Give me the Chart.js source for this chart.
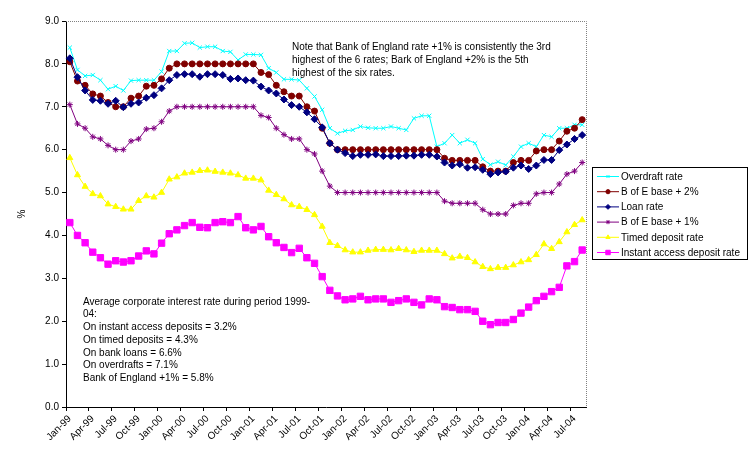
<!DOCTYPE html>
<html>
<head>
<meta charset="utf-8">
<script src="https://cdn.jsdelivr.net/npm/chart.js@4/dist/chart.umd.min.js"></script>
<style>
  html, body { margin: 0; padding: 0; background: #fff; }
  canvas { display: block; }
</style>
</head>
<body>
<canvas id="chart" width="752" height="462"></canvas>
<script>
// months Jan-99 .. Aug-04
const months = [
    "Jan-99", "Feb-99", "Mar-99", "Apr-99", "May-99", "Jun-99", "Jul-99", "Aug-99", "Sep-99", "Oct-99", "Nov-99", "Dec-99",
    "Jan-00", "Feb-00", "Mar-00", "Apr-00", "May-00", "Jun-00", "Jul-00", "Aug-00", "Sep-00", "Oct-00", "Nov-00", "Dec-00",
    "Jan-01", "Feb-01", "Mar-01", "Apr-01", "May-01", "Jun-01", "Jul-01", "Aug-01", "Sep-01", "Oct-01", "Nov-01", "Dec-01",
    "Jan-02", "Feb-02", "Mar-02", "Apr-02", "May-02", "Jun-02", "Jul-02", "Aug-02", "Sep-02", "Oct-02", "Nov-02", "Dec-02",
    "Jan-03", "Feb-03", "Mar-03", "Apr-03", "May-03", "Jun-03", "Jul-03", "Aug-03", "Sep-03", "Oct-03", "Nov-03", "Dec-03",
    "Jan-04", "Feb-04", "Mar-04", "Apr-04", "May-04", "Jun-04", "Jul-04", "Aug-04"
];

const overdraft = [
    8.38, 7.86, 7.72, 7.74, 7.62, 7.41, 7.48, 7.38, 7.61, 7.62, 7.62, 7.62,
    7.82, 8.30, 8.30, 8.48, 8.49, 8.38, 8.40, 8.40, 8.30, 8.28, 8.09, 8.22,
    8.22, 8.21, 7.90, 7.80, 7.64, 7.64, 7.62, 7.43, 7.24, 6.93, 6.50, 6.38,
    6.44, 6.46, 6.54, 6.51, 6.50, 6.50, 6.54, 6.50, 6.46, 6.73, 6.79, 6.79,
    6.07, 6.15, 6.34, 6.15, 6.23, 6.15, 5.78, 5.65, 5.72, 5.64, 5.84, 6.07,
    6.15, 6.07, 6.34, 6.30, 6.50, 6.50, 6.58, 6.58
];

const boePlus2 = [
    8.05, 7.60, 7.50, 7.30, 7.25, 7.10, 7.00, 7.00, 7.20, 7.25, 7.48, 7.50,
    7.65, 7.90, 8.00, 8.00, 8.00, 8.00, 8.00, 8.00, 8.00, 8.00, 8.00, 8.00,
    8.00, 7.80, 7.75, 7.50, 7.35, 7.25, 7.25, 7.00, 6.90, 6.50, 6.15, 6.00,
    6.00, 6.00, 6.00, 6.00, 6.00, 6.00, 6.00, 6.00, 6.00, 6.00, 6.00, 6.00,
    6.00, 5.80, 5.75, 5.75, 5.75, 5.75, 5.60, 5.50, 5.50, 5.50, 5.70, 5.75,
    5.75, 5.97, 6.00, 6.00, 6.20, 6.43, 6.50, 6.70
];

const loan = [
    8.13, 7.69, 7.38, 7.16, 7.14, 7.07, 7.14, 6.99, 7.07, 7.10, 7.21, 7.27,
    7.43, 7.62, 7.74, 7.76, 7.76, 7.70, 7.76, 7.76, 7.74, 7.65, 7.66, 7.62,
    7.61, 7.47, 7.38, 7.31, 7.17, 7.04, 7.00, 6.87, 6.71, 6.52, 6.15, 6.00,
    5.92, 5.85, 5.88, 5.88, 5.89, 5.85, 5.85, 5.85, 5.86, 5.86, 5.88, 5.88,
    5.84, 5.70, 5.63, 5.66, 5.58, 5.59, 5.53, 5.43, 5.47, 5.49, 5.58, 5.63,
    5.55, 5.63, 5.76, 5.76, 5.99, 6.12, 6.25, 6.34
];

const boePlus1 = [
    7.05, 6.60, 6.50, 6.30, 6.25, 6.10, 6.00, 6.00, 6.20, 6.25, 6.48, 6.50,
    6.65, 6.90, 7.00, 7.00, 7.00, 7.00, 7.00, 7.00, 7.00, 7.00, 7.00, 7.00,
    7.00, 6.80, 6.75, 6.50, 6.35, 6.25, 6.25, 6.00, 5.90, 5.50, 5.15, 5.00,
    5.00, 5.00, 5.00, 5.00, 5.00, 5.00, 5.00, 5.00, 5.00, 5.00, 5.00, 5.00,
    5.00, 4.80, 4.75, 4.75, 4.75, 4.75, 4.60, 4.50, 4.50, 4.50, 4.70, 4.75,
    4.75, 4.97, 5.00, 5.00, 5.20, 5.43, 5.50, 5.70
];

const timedDeposit = [
    5.81, 5.41, 5.14, 4.97, 4.92, 4.73, 4.67, 4.61, 4.61, 4.81, 4.92, 4.89,
    5.00, 5.31, 5.36, 5.45, 5.47, 5.51, 5.52, 5.49, 5.47, 5.45, 5.41, 5.33,
    5.33, 5.29, 5.05, 4.95, 4.85, 4.71, 4.67, 4.60, 4.48, 4.21, 3.83, 3.76,
    3.66, 3.61, 3.61, 3.65, 3.67, 3.67, 3.66, 3.69, 3.66, 3.62, 3.65, 3.65,
    3.65, 3.57, 3.47, 3.51, 3.48, 3.38, 3.27, 3.22, 3.25, 3.25, 3.31, 3.38,
    3.43, 3.55, 3.80, 3.69, 3.85, 4.08, 4.25, 4.36
];

const instantAccess = [
    4.30, 4.00, 3.83, 3.61, 3.48, 3.33, 3.41, 3.38, 3.41, 3.52, 3.64, 3.57,
    3.82, 4.04, 4.13, 4.23, 4.30, 4.19, 4.18, 4.30, 4.32, 4.30, 4.44, 4.18,
    4.13, 4.21, 3.97, 3.83, 3.72, 3.60, 3.70, 3.48, 3.35, 3.04, 2.72, 2.59,
    2.50, 2.52, 2.58, 2.50, 2.52, 2.52, 2.44, 2.48, 2.52, 2.44, 2.38, 2.52,
    2.50, 2.34, 2.32, 2.27, 2.27, 2.23, 2.00, 1.92, 1.97, 1.97, 2.04, 2.19,
    2.33, 2.48, 2.58, 2.69, 2.79, 3.29, 3.39, 3.66
];

const yTicks = [0, 1, 2, 3, 4, 5, 6, 7, 8, 9];

const noteLines = [
    "Note that Bank of England rate +1% is consistently the 3rd",
    "highest of the 6 rates; Bark of England +2% is the 5th",
    "highest of the six rates."
];

const averageLines = [
    "Average corporate interest rate during period 1999-",
    "04:",
    "On instant access deposits = 3.2%",
    "On timed deposits = 4.3%",
    "On bank loans = 6.6%",
    "On overdrafts = 7.1%",
    "Bank of England +1% = 5.8%"
];

Chart.defaults.font.family = "'Liberation Sans', Arial, sans-serif";
Chart.defaults.font.size = 10;
Chart.defaults.color = "#000";

function series(label, data, color, style, radius, order) {
    return {
        label: label,
        data: data,
        borderColor: color,
        backgroundColor: color,
        borderWidth: 1,
        pointStyle: style,
        pointRadius: radius,
        pointBorderWidth: 1,
        pointBorderColor: color,
        pointBackgroundColor: color,
        tension: 0,
        order: order
    };
}

// plot frame (dotted top / right) plus text boxes and legend
const extras = {
    id: "extras",
    beforeDatasetsDraw(chart) {
        const ctx = chart.ctx;
        const a = chart.chartArea;
        ctx.save();
        ctx.strokeStyle = "#808080";
        ctx.lineWidth = 1;
        ctx.setLineDash([1, 1]);
        ctx.beginPath();
        ctx.moveTo(a.left, a.top + 0.5);
        ctx.lineTo(a.right + 0.5, a.top + 0.5);
        ctx.lineTo(a.right + 0.5, a.bottom);
        ctx.stroke();
        ctx.restore();
    },
    afterDraw(chart) {
        const ctx = chart.ctx;
        ctx.save();
        ctx.font = "10px 'Liberation Sans', Arial, sans-serif";
        ctx.fillStyle = "#000";
        ctx.textBaseline = "middle";
        ctx.textAlign = "left";
        noteLines.forEach((t, i) => ctx.fillText(t, 292, 47 + i * 13));
        averageLines.forEach((t, i) => ctx.fillText(t, 83, 302 + i * 12.7));

        // legend
        const lx = 592, ly = 167, lw = 155, lh = 92;
        ctx.strokeStyle = "#000";
        ctx.lineWidth = 1;
        ctx.strokeRect(lx + 0.5, ly + 0.5, lw, lh);
        chart.data.datasets.forEach((ds, i) => {
            const y = 176 + i * 15.2;
            ctx.strokeStyle = ds.borderColor;
            ctx.beginPath();
            ctx.moveTo(597, y + 0.5);
            ctx.lineTo(619, y + 0.5);
            ctx.stroke();
            ctx.fillStyle = ds.backgroundColor;
            Chart.helpers.drawPoint(ctx, {
                pointStyle: ds.pointStyle,
                radius: ds.pointRadius * 0.7,
                borderWidth: 1,
                rotation: 0
            }, 608, y + 0.5);
            ctx.fillStyle = "#000";
            ctx.fillText(ds.label, 621, y + 1);
        });
        ctx.restore();
    }
};

new Chart(document.getElementById("chart"), {
    type: "line",
    data: {
        labels: months,
        datasets: [
            series("Overdraft rate", overdraft, "#00FFFF", "crossRot", 3, 6),
            series("B of E base + 2%", boePlus2, "#800000", "circle", 3, 5),
            series("Loan rate", loan, "#000080", "rectRot", 3.5, 4),
            series("B of E base + 1%", boePlus1, "#800080", "star", 3, 3),
            series("Timed deposit rate", timedDeposit, "#FFFF00", "triangle", 3.5, 2),
            series("Instant access deposit rate", instantAccess, "#FF00FF", "rect", 4.5, 1)
        ]
    },
    options: {
        responsive: false,
        animation: false,
        devicePixelRatio: 1,
        layout: {
            padding: { left: 0, top: 21, right: 166, bottom: 0 }
        },
        plugins: {
            legend: { display: false },
            tooltip: { enabled: false }
        },
        scales: {
            x: {
                type: "category",
                offset: true,
                afterFit: (scale) => { scale.height = 55; },
                grid: {
                    offset: true,
                    drawOnChartArea: false,
                    tickLength: 4,
                    color: (c) => (c.index % 3 === 0 ? "#000" : "rgba(0,0,0,0)")
                },
                border: { color: "#000", width: 1 },
                ticks: {
                    autoSkip: false,
                    minRotation: 45,
                    maxRotation: 45,
                    padding: 2,
                    callback: (v, i) => (i % 3 === 0 ? months[i] : "")
                }
            },
            y: {
                min: 0,
                max: 9,
                afterFit: (scale) => { scale.width = 66; },
                afterBuildTicks: (scale) => { scale.ticks = yTicks.map((v) => ({ value: v })); },
                grid: {
                    drawOnChartArea: false,
                    tickLength: 4,
                    color: "#000"
                },
                border: { color: "#000", width: 1 },
                ticks: {
                    padding: 3,
                    callback: (v) => Number(v).toFixed(1)
                },
                title: {
                    display: true,
                    text: "%",
                    padding: { top: 16, bottom: 0 }
                }
            }
        }
    },
    plugins: [extras]
});
</script>
</body>
</html>
